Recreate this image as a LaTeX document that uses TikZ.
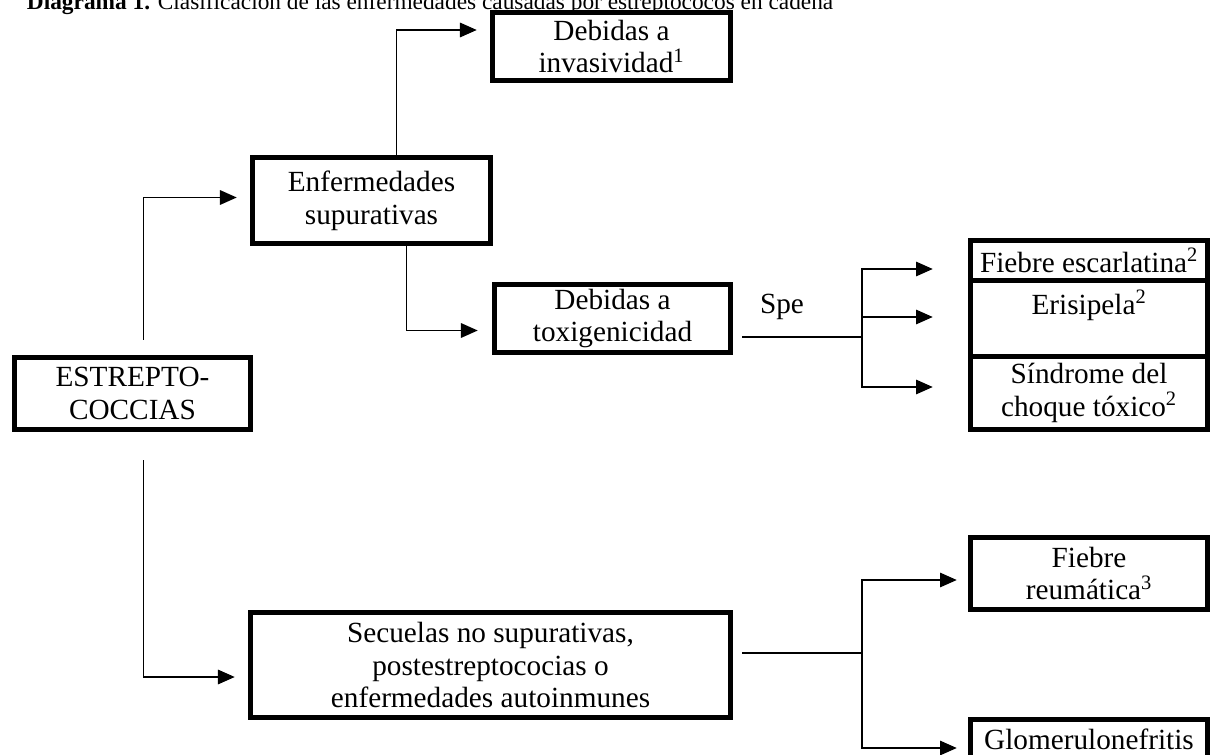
\documentclass[tikz,border=0pt]{standalone}
\usepackage{fontspec}
\setmainfont{Liberation Serif}
\usetikzlibrary{arrows.meta}
\tikzset{every picture/.append style={x=0.025cm, y=-0.025cm}}
\tikzset{every node/.style={font=\fontsize{20.8}{23.4}\selectfont}}
\tikzset{
    caja/.style={draw, line width=3.8pt, align=center, inner sep=0pt},
    linea/.style={line width=1.3pt},
    flecha/.style={line width=1.3pt, -{Triangle[length=0.42cm, width=0.36cm]}}
}

\begin{document}
\begin{tikzpicture}
  \useasboundingbox (0,0) rectangle (1210,755);

  \node (titulo) [anchor=base west, font=\fontsize{16.6}{19}\selectfont] at (22,10) {\textbf{Diagrama 1.} Clasificación de las enfermedades causadas por estreptococos en cadena};

  \node (est) [caja, minimum width=5.9cm, minimum height=1.8cm] at (132.5,393.5) {ESTREPTO-\\COCCIAS};
  \node (sup) [caja, minimum width=5.95cm, minimum height=2.15cm] at (371.5,200.5) {Enfermedades\\supurativas};
  \node (inv) [caja, minimum width=5.95cm, minimum height=1.7cm] at (611.5,46.5) {Debidas a\\invasividad\textsuperscript{1}};
  \node (tox) [caja, minimum width=5.9cm, minimum height=1.7cm] at (612.5,318.5) {Debidas a\\toxigenicidad};
  \node (seq) [caja, minimum width=12cm, minimum height=2.625cm] at (490.5,665) {Secuelas no supurativas,\\postestreptococias o\\enfermedades autoinmunes};

  \node (esc) [caja, minimum width=5.925cm, minimum height=1cm] at (1089,260.5) {Fiebre escarlatina\textsuperscript{2}};
  \node (eri) [caja, minimum width=5.925cm, minimum height=1.9cm] at (1089,318.5) {Erisipela\textsuperscript{2}\\~};
  \node (sind) [caja, minimum width=5.925cm, minimum height=1.825cm] at (1089,393) {Síndrome del\\choque tóxico\textsuperscript{2}};
  \node (reu) [caja, minimum width=5.925cm, minimum height=1.8cm] at (1089,573.5) {Fiebre\\reumática\textsuperscript{3}};
  \node (glo) [caja, minimum width=5.925cm, minimum height=1.8cm] at (1089,755.5) {Glomerulonefritis\\~};

  \node (spe) at (782,307) {Spe};

  \coordinate (f1) at (862,337);
  \coordinate (f2) at (862,653);

  \draw[flecha] ([shift={(11,-15)}]est.north) |- ([shift={(-13,-3)}]sup.west);
  \draw[flecha] ([shift={(11,28)}]est.south) |- ([shift={(-13,12)}]seq.west);
  \draw[flecha] ([shift={(25,0)}]sup.north) |- ([shift={(-13,-16.5)}]inv.west);
  \draw[flecha] ([shift={(35,0)}]sup.south) |- ([shift={(-14,12)}]tox.west);

  \draw[linea] ([shift={(9,18.5)}]tox.east) -- (f1);
  \draw[flecha] (f1) |- ([shift={(-35,8.5)}]esc.west);
  \draw[flecha] (f1) |- ([shift={(-35,-1.5)}]eri.west);
  \draw[flecha] (f1) |- ([shift={(-35,-6)}]sind.west);

  \draw[linea] ([shift={(9,-12)}]seq.east) -- (f2);
  \draw[flecha] (f2) |- ([shift={(-11,6.5)}]reu.west);
  \draw[flecha] (f2) |- ([shift={(-11,-7.5)}]glo.west);

\end{tikzpicture}
\end{document}
